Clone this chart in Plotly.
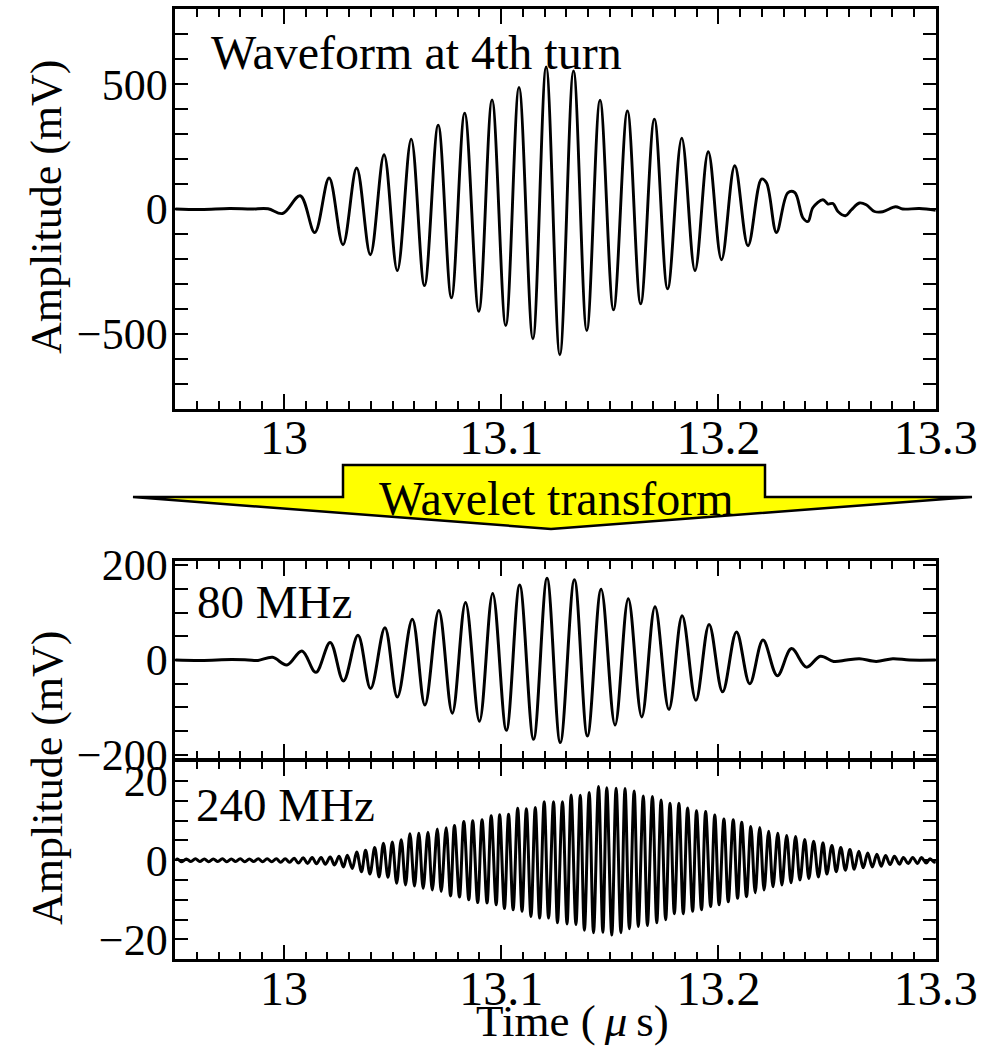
import plotly.graph_objects as go

W, H = 996, 1048
FONT = "Liberation Serif, Times New Roman, serif"

# ---------------- data ----------------
x_tick_vals = [13.0, 13.1, 13.2, 13.3]
x_tick_text = ["13", "13.1", "13.2", "13.3"]

# Waveform at 4th turn (time in us, amplitude in mV)
top_t = [12.9500, 12.9620, 12.9750, 12.9850, 12.9927, 12.9994, 13.0075, 13.0142, 13.0208,
         13.0272, 13.0335, 13.0398, 13.0461, 13.0522, 13.0586, 13.0647, 13.0710, 13.0771,
         13.0832, 13.0897, 13.0958, 13.1021, 13.1082, 13.1146, 13.1207, 13.1270, 13.1333,
         13.1394, 13.1455, 13.1517, 13.1581, 13.1642, 13.1705, 13.1766, 13.1831, 13.1892,
         13.1953, 13.2014, 13.2075, 13.2136, 13.2198, 13.2221, 13.2267, 13.2319, 13.2351,
         13.2389, 13.2412, 13.2435, 13.2481, 13.2504, 13.2527, 13.2550, 13.2584, 13.2611,
         13.2649, 13.2680, 13.2718, 13.2756, 13.2815, 13.2848, 13.2925, 13.3000]
top_mv = [0, -2, 2, 0, 1, -18, 53, -94, 124,
          -143, 164, -183, 217, -247, 280, -307, 336, -356,
          384, -410, 437, -467, 487, -520, 569, -584, 553,
          -487, 436, -404, 393, -380, 360, -320, 284, -247,
          229, -203, 173, -147, 120, 105, -94, 65, 66,
          -36, -50, 6, 37, 20, 22, -10, -27, -4,
          24, 17, -10, -11, 9, 0, 2, -5]

# 80 MHz component
f80_t = [12.9500, 12.9620, 12.9760, 12.9835, 12.9881, 12.9948, 13.0014, 13.0083, 13.0147,
         13.0213, 13.0274, 13.0341, 13.0399, 13.0465, 13.0522, 13.0591, 13.0649, 13.0713,
         13.0775, 13.0836, 13.0900, 13.0961, 13.1024, 13.1085, 13.1149, 13.1211, 13.1272,
         13.1337, 13.1397, 13.1460, 13.1524, 13.1585, 13.1647, 13.1708, 13.1772, 13.1833,
         13.1896, 13.1957, 13.2019, 13.2083, 13.2144, 13.2205, 13.2271, 13.2336, 13.2405,
         13.2469, 13.2530, 13.2590, 13.2649, 13.2726, 13.2802, 13.2879, 13.3000]
f80_mv = [0, -1, 1, 0, -1, 5.6, -10.4, 19, -26,
          37, -44, 52, -60, 68, -78, 86, -95, 104,
          -112, 121, -129, 140, -148, 158, -167, 172, -174,
          169, -160, 149, -137, 129, -120, 112, -104, 93,
          -85, 75, -67, 59, -50, 42, -33, 24, -15,
          8, -3, 0, 2.7, -3, 2.7, 0, 0]

# 240 MHz component
f240_t = [12.9500, 12.9510, 12.9530, 12.9551, 12.9572, 12.9593, 12.9613, 12.9634, 12.9654,
          12.9675, 12.9696, 12.9717, 12.9737, 12.9758, 12.9778, 12.9799, 12.9820, 12.9841,
          12.9861, 12.9882, 12.9902, 12.9923, 12.9944, 12.9965, 12.9985, 13.0006, 13.0026,
          13.0047, 13.0067, 13.0089, 13.0109, 13.0130, 13.0150, 13.0171, 13.0191, 13.0213,
          13.0233, 13.0254, 13.0274, 13.0292, 13.0315, 13.0335, 13.0357, 13.0376, 13.0396,
          13.0418, 13.0438, 13.0458, 13.0479, 13.0499, 13.0519, 13.0540, 13.0560, 13.0580,
          13.0601, 13.0621, 13.0641, 13.0663, 13.0683, 13.0706, 13.0724, 13.0747, 13.0767,
          13.0785, 13.0808, 13.0828, 13.0851, 13.0869, 13.0892, 13.0912, 13.0935, 13.0954,
          13.0977, 13.0993, 13.1015, 13.1034, 13.1055, 13.1076, 13.1096, 13.1116, 13.1137,
          13.1157, 13.1177, 13.1198, 13.1218, 13.1241, 13.1259, 13.1282, 13.1303, 13.1322,
          13.1344, 13.1364, 13.1383, 13.1405, 13.1425, 13.1448, 13.1468, 13.1486, 13.1509,
          13.1529, 13.1551, 13.1570, 13.1590, 13.1612, 13.1631, 13.1654, 13.1673, 13.1696,
          13.1716, 13.1736, 13.1757, 13.1777, 13.1797, 13.1818, 13.1838, 13.1858, 13.1881,
          13.1899, 13.1922, 13.1941, 13.1964, 13.1983, 13.2003, 13.2025, 13.2045, 13.2068,
          13.2088, 13.2107, 13.2129, 13.2149, 13.2169, 13.2190, 13.2210, 13.2231, 13.2251,
          13.2273, 13.2292, 13.2314, 13.2334, 13.2355, 13.2375, 13.2397, 13.2416, 13.2438,
          13.2460, 13.2481, 13.2499, 13.2522, 13.2542, 13.2563, 13.2584, 13.2605, 13.2625,
          13.2646, 13.2666, 13.2687, 13.2708, 13.2729, 13.2749, 13.2769, 13.2790, 13.2810,
          13.2833, 13.2851, 13.2873, 13.2894, 13.2916, 13.2934, 13.2956, 13.2974, 13.2994,
          13.3000]
f240_mv = [0.0, 0.3, -0.4, 0.3, -0.3, 0.4, -0.3, 0.3, -0.4,
           0.3, -0.3, 0.4, -0.4, 0.3, -0.3, 0.4, -0.4, 0.3,
           -0.3, 0.4, -0.4, 0.4, -0.4, 0.4, -0.5, 0.4, -0.5,
           0.5, -0.7, 0.6, -0.8, 0.7, -0.9, 0.7, -1.0, 0.8,
           -1.2, 1.0, -1.7, 1.25, -2.1, 2.1, -2.9, 2.5, -3.5,
           3.2, -4.2, 4.3, -4.3, 4.6, -5.8, 5.2, -6.25, 6.7,
           -6.5, 6.8, -7.1, 7.1, -7.5, 7.9, -7.9, 8.2, -9.0,
           8.75, -9.3, 9.8, -10.0, 10.0, -10.7, 10.2, -10.8, 11.25,
           -11.25, 11.5, -12.2, 11.6, -12.5, 13.1, -12.9, 13.0, -14.2,
           13.3, -14.6, 14.8, -14.6, 14.75, -15.8, 14.8, -16.1, 16.5,
           -16.25, 16.4, -17.7, 17.1, -18.3, 18.6, -18.2, 18.3, -18.9,
           18.2, -18.3, 18.1, -17.3, 17.5, -16.7, 16.25, -16.5, 16.1,
           -15.8, 15.2, -15.0, 14.4, -13.5, 14.4, -13.5, 13.2, -12.9,
           12.5, -12.5, 12.3, -11.7, 11.4, -11.25, 10.4, -10.5, 10.2,
           -9.6, 9.6, -9.2, 8.5, -8.2, 8.3, -7.5, 7.3, -6.7,
           6.8, -6.25, 6.25, -5.7, 6.0, -5.0, 5.25, -4.6, 4.8,
           -4.2, 4.4, -3.5, 3.75, -2.9, 3.2, -2.5, 2.7, -2.3,
           2.25, -1.9, 1.8, -1.7, 1.5, -1.5, 1.2, -1.1, 1.0,
           -1.0, 0.7, -0.8, 0.7, -0.8, 0.7, -0.7, 0.4, -0.5,
           0.0]

panel_labels = ["Waveform at 4th turn", "80 MHz", "240 MHz"]
y_title = "Amplitude (mV)"
x_title = "Time (\u2009<i>\u03bc</i>\u2009s)"
arrow_text = "Wavelet transform"

# ---------------- layout helpers ----------------
def px(x):
    return x / W

def py(y):
    return 1 - y / H

LW = 2.5  # axis line width (plotly draws the frame just outside the domain)
X_DOM = [px(174 + LW / 2), px(937 - LW / 2)]

fig = go.Figure()
series = [(top_t, top_mv, "x", "y", 2.9),
          (f80_t, f80_mv, "x2", "y2", 3.0),
          (f240_t, f240_mv, "x3", "y3", 3.0)]
for t, v, xr, yr, lw in series:
    fig.add_trace(go.Scatter(x=t, y=v, mode="lines", xaxis=xr, yaxis=yr,
                             line=dict(color="black", width=lw, shape="spline", smoothing=1.0),
                             showlegend=False, hoverinfo="skip"))

def xaxis(anchor, labels):
    return dict(domain=X_DOM, anchor=anchor, range=[12.95, 13.3], automargin=False,
                tickmode="array", tickvals=x_tick_vals, ticktext=x_tick_text,
                ticks="inside", ticklen=15, tickwidth=2, tickcolor="black",
                showline=True, linewidth=LW, linecolor="black", mirror="allticks",
                showgrid=False, zeroline=False, showticklabels=labels,
                ticklabelstandoff=-15,
                tickfont=dict(family=FONT, size=48, color="black"),
                minor=dict(dtick=0.01, tick0=13.0, ticks="inside", ticklen=8, tickwidth=2,
                           tickcolor="black", showgrid=False))

def yaxis(anchor, dom, rng, dtick, minor):
    return dict(domain=dom, anchor=anchor, range=rng, tick0=0, dtick=dtick, automargin=False,
                ticks="inside", ticklen=13, tickwidth=2, tickcolor="black",
                showline=True, linewidth=LW, linecolor="black", mirror="allticks",
                showgrid=False, zeroline=False, ticklabelstandoff=-4,
                tickfont=dict(family=FONT, size=44, color="black"),
                minor=dict(dtick=minor, tick0=0, ticks="inside", ticklen=13, tickwidth=2,
                           tickcolor="black", showgrid=False))

h = LW / 2
fig.update_layout(
    width=W, height=H, margin=dict(l=0, r=0, t=0, b=0, autoexpand=False),
    paper_bgcolor="white", plot_bgcolor="white",
    xaxis=xaxis("y", True),
    xaxis2=xaxis("y2", False),
    xaxis3=xaxis("y3", True),
    yaxis=yaxis("x", [py(410 - h), py(8 + h)], [-800, 800], 500, 100),
    yaxis2=yaxis("x2", [py(760 - h), py(560 + h)], [-208, 208], 200, 50),
    yaxis3=yaxis("x3", [py(960.5 - h), py(760 + h)], [-25, 25], 20, 5),
)

ann = []
def text(t, x, y, size, xanchor="left", angle=0, yanchor="middle"):
    ann.append(dict(text=t, x=px(x), y=py(y), xref="paper", yref="paper",
                    xanchor=xanchor, yanchor=yanchor, showarrow=False, textangle=angle,
                    font=dict(family=FONT, size=size, color="black")))

text(panel_labels[0], 209, 53, 48)
text(panel_labels[1], 195, 602, 47)
text(panel_labels[2], 194, 805, 47)
text(y_title, 47, 207, 44, "center", -90)
text(y_title, 47, 778, 44, "center", -90)
text(x_title, 572, 1048, 45, "center", 0, "bottom")

# arrow shape (decoration)
pts = [(133, 497), (343, 497), (343, 465), (765, 465), (765, 497), (972, 497), (551, 529)]
path = "M " + " L ".join(f"{px(a):.5f},{py(b):.5f}" for a, b in pts) + " Z"
fig.add_shape(type="path", path=path, xref="paper", yref="paper",
              fillcolor="#ffff00", line=dict(color="black", width=2.5), layer="above")
fig.update_layout(annotations=ann)
fig.add_annotation(text=arrow_text, x=px(556), y=py(499), xref="paper", yref="paper",
                   xanchor="center", yanchor="middle", showarrow=False,
                   font=dict(family=FONT, size=48, color="black"))

fig.write_html("out.html")
